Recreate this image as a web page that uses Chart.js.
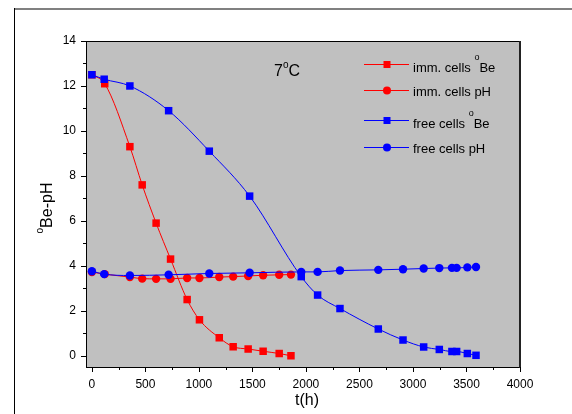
<!DOCTYPE html>
<html><head><meta charset="utf-8">
<script src="https://cdn.jsdelivr.net/npm/chart.js@4.4.0/dist/chart.umd.min.js"></script>
<style>html,body{margin:0;padding:0;background:#fff;}#wrap{width:572px;height:414px;}</style>
</head><body><div id="wrap"><canvas id="c" width="572" height="414"></canvas></div>
<script>
// ---- data ----
const immTimes = [0,120,355,470,600,735,890,1005,1190,1320,1460,1600,1750,1860];
const immBe    = [12.5,12.1,9.3,7.6,5.9,4.3,2.5,1.6,0.8,0.4,0.3,0.2,0.1,0.0];
const immPH    = [3.72,3.63,3.5,3.43,3.42,3.42,3.46,3.46,3.5,3.52,3.55,3.58,3.6,3.61];
const freeTimes = [0,115,355,717,1097,1474,1956,2109,2318,2676,2907,3100,3246,3364,3408,3508,3589];
const freeBe    = [12.5,12.3,12.0,10.9,9.1,7.1,3.52,2.7,2.1,1.19,0.7,0.39,0.28,0.19,0.19,0.1,0.02];
const freePH    = [3.76,3.63,3.57,3.6,3.66,3.69,3.73,3.73,3.79,3.82,3.85,3.88,3.9,3.91,3.91,3.93,3.95];
const seriesLabels = ['imm. cells °Be','imm. cells pH','free cells °Be','free cells pH'];
const xTicks = [0,500,1000,1500,2000,2500,3000,3500,4000];
const yTicks = [0,2,4,6,8,10,12,14];
const xTitle = 't(h)';
const yTitle = '°Be-pH';
const annotationText = '7°C';

const FONT = '"Liberation Sans", Arial, sans-serif';
const pts = (xs, ys) => xs.map((x, i) => ({x: x, y: ys[i]}));

function richText(ctx, text, x, y, size, supSize, supRise) {
  const segs = text.split('°');
  let cx = x;
  segs.forEach((seg, i) => {
    if (i > 0) {
      ctx.font = supSize + 'px ' + FONT;
      ctx.fillText('o', cx, y - supRise);
      cx += ctx.measureText('o').width;
    }
    ctx.font = size + 'px ' + FONT;
    ctx.fillText(seg, cx, y);
    cx += ctx.measureText(seg).width;
  });
  return cx - x;
}
function richWidth(ctx, text, size, supSize) {
  const segs = text.split('°');
  let w = 0;
  segs.forEach((seg, i) => {
    if (i > 0) { ctx.font = supSize + 'px ' + FONT; w += ctx.measureText('o').width; }
    ctx.font = size + 'px ' + FONT; w += ctx.measureText(seg).width;
  });
  return w;
}

const decor = {
  id: 'decor',
  beforeDraw(chart) {
    const {ctx, chartArea: a} = chart;
    ctx.save();
    ctx.fillStyle = '#fff';
    ctx.fillRect(0, 0, chart.width, chart.height);
    // outer frame
    ctx.fillStyle = '#808080';
    ctx.fillRect(14, 8, chart.width - 14, 2);
    ctx.fillStyle = '#000';
    ctx.fillRect(14, 8, 1, chart.height - 8);
    // plot bg
    ctx.fillStyle = '#c0c0c0';
    ctx.fillRect(a.left, a.top, a.right - a.left, a.bottom - a.top);
    ctx.restore();
  },
  afterDatasetsDraw(chart) {
    const {ctx, chartArea: a, scales} = chart;
    ctx.save();
    ctx.strokeStyle = '#000';
    ctx.lineWidth = 1;
    ctx.strokeRect(a.left + 0.5, a.top + 0.5, a.right - a.left - 1, a.bottom - a.top);
    ctx.fillStyle = '#222';
    ctx.fillRect(a.right - 1, a.top, 2, a.bottom - a.top + 1);
    ctx.beginPath();
    // x ticks
    for (let v = 0; v <= 4000; v += 250) {
      const px = Math.round(scales.x.getPixelForValue(v)) + 0.5;
      const len = (v % 500 === 0) ? 5 : 3;
      ctx.moveTo(px, a.bottom); ctx.lineTo(px, a.bottom + len);
    }
    // y ticks
    for (let v = 0; v <= 14; v += 1) {
      const py = Math.round(scales.y.getPixelForValue(v)) + 0.5;
      const len = (v % 2 === 0) ? 5 : 3;
      ctx.moveTo(a.left, py); ctx.lineTo(a.left - len, py);
    }
    ctx.stroke();

    // annotation
    ctx.fillStyle = '#000';
    ctx.textBaseline = 'alphabetic';
    ctx.textAlign = 'left';
    richText(ctx, annotationText, 274, 76, 16, 10, 8);

    // legend
    const rows = [64, 90, 120, 147];
    chart.data.datasets.forEach((ds, i) => {
      const y = rows[i];
      ctx.strokeStyle = ds.borderColor;
      ctx.lineWidth = 1;
      ctx.beginPath();
      ctx.moveTo(364, y + 0.5); ctx.lineTo(409, y + 0.5);
      ctx.stroke();
      ctx.fillStyle = ds.backgroundColor;
      if (ds.pointStyle === 'rect') {
        ctx.fillRect(387 - 3.5, y - 3.5 + 0.5, 7, 7);
      } else {
        ctx.beginPath(); ctx.arc(387, y + 0.5, 4, 0, Math.PI * 2); ctx.fill();
      }
      ctx.fillStyle = '#000';
      const hasSup = ds.label.indexOf('°') >= 0;
      richText(ctx, ds.label, 413, y + (hasSup ? 7.5 : 5.5), 13, 9, 12);
    });

    // axis titles
    ctx.font = '16px ' + FONT;
    ctx.textAlign = 'center';
    ctx.fillText(xTitle, 307, 405);
    ctx.save();
    ctx.translate(52, 208);
    ctx.rotate(-Math.PI / 2);
    ctx.textAlign = 'left';
    const w = richWidth(ctx, yTitle, 16, 10);
    richText(ctx, yTitle, -w / 2, 0, 16, 10, 9);
    ctx.restore();
    ctx.restore();
  }
};

const tickFont = {family: FONT, size: 12};
new Chart(document.getElementById('c'), {
  type: 'line',
  data: {
    datasets: [
      {label: seriesLabels[0], data: pts(immTimes, immBe), borderColor: '#ff0000', backgroundColor: '#ff0000', pointStyle: 'rect', pointRadius: 5.3, order: 3},
      {label: seriesLabels[1], data: pts(immTimes, immPH), borderColor: '#ff0000', backgroundColor: '#ff0000', pointStyle: 'circle', pointRadius: 4.2, order: 4},
      {label: seriesLabels[2], data: pts(freeTimes, freeBe), borderColor: '#0000ff', backgroundColor: '#0000ff', pointStyle: 'rect', pointRadius: 5.3, order: 1},
      {label: seriesLabels[3], data: pts(freeTimes, freePH), borderColor: '#0000ff', backgroundColor: '#0000ff', pointStyle: 'circle', pointRadius: 4.2, order: 2}
    ].map(d => Object.assign({borderWidth: 1, pointBorderWidth: 0, cubicInterpolationMode: 'monotone', fill: false}, d))
  },
  options: {
    responsive: false, animation: false, devicePixelRatio: 1,
    layout: {padding: {left: 0, top: 41, right: 52, bottom: 0}},
    plugins: {legend: {display: false}, tooltip: {enabled: false}},
    scales: {
      x: {
        type: 'linear', min: -55, max: 4000,
        afterBuildTicks: s => { s.ticks = xTicks.map(v => ({value: v})); },
        afterFit: s => { s.height = 47; },
        grid: {display: false, drawTicks: false}, border: {display: false},
        ticks: {padding: 10, color: '#000', font: tickFont, maxRotation: 0, autoSkip: false, callback: v => String(v)}
      },
      y: {
        type: 'linear', min: -0.5, max: 14,
        afterBuildTicks: s => { s.ticks = yTicks.map(v => ({value: v})); },
        afterFit: s => { s.width = 86; },
        grid: {display: false, drawTicks: false}, border: {display: false},
        ticks: {padding: 10, color: '#000', font: tickFont, autoSkip: false, callback: v => String(v)}
      }
    }
  },
  plugins: [decor]
});
</script></body></html>
